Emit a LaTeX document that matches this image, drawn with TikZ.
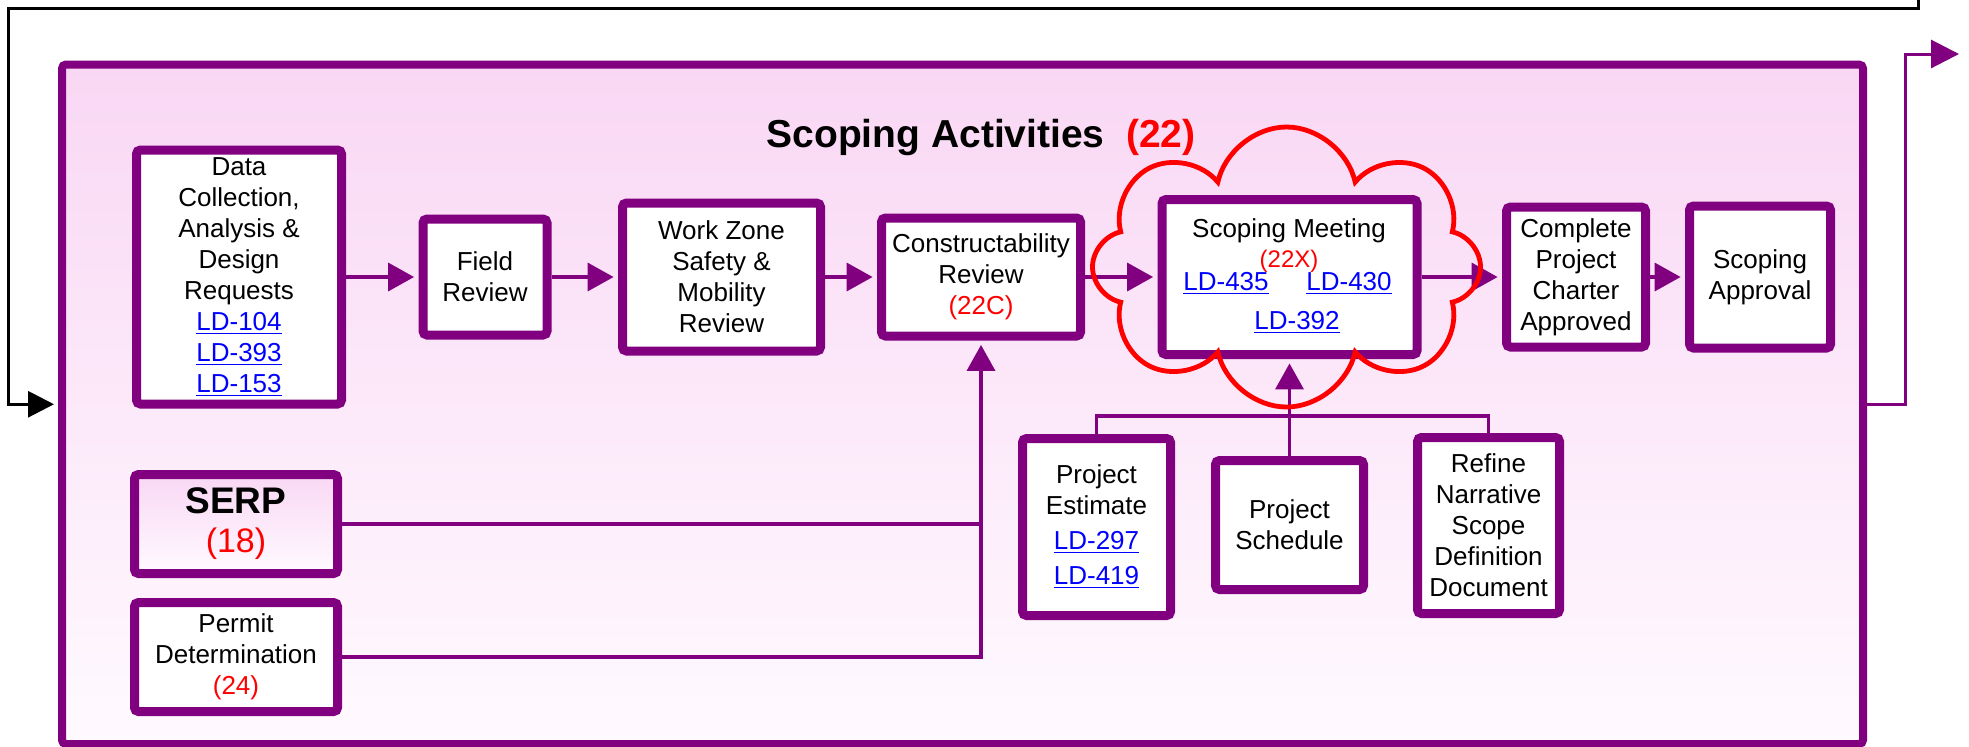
\documentclass[tikz,border=0pt]{standalone}
\usepackage{fontspec}
\setmainfont{Liberation Sans}
\usetikzlibrary{arrows.meta,shapes.symbols}

\definecolor{scopepurple}{RGB}{128,0,128}
\definecolor{linkblue}{RGB}{0,0,255}
\definecolor{pinktop}{RGB}{249,215,244}
\definecolor{pinkbottom}{RGB}{255,250,255}

\newcommand{\ldlink}[1]{\textcolor{linkblue}{\underline{#1}}}

\tikzset{every picture/.style={line width=0.75pt}}
\tikzset{
  stepbox/.style={draw=scopepurple, line width=4.5pt, fill=white, rounded corners=2pt, inner sep=0pt, align=center, font=\fontsize{13}{15.5}\selectfont},
  flow/.style={draw=scopepurple, line width=1.75pt, -{Triangle[length=13pt,width=14pt]}, shorten >=2.2pt},
  feed/.style={draw=scopepurple, line width=1.75pt},
  plaintext/.style={anchor=base, inner sep=0pt, font=\fontsize{13}{15.5}\selectfont}
}

\begin{document}
\begin{tikzpicture}[x=0.5pt,y=0.5pt,yscale=-1,xscale=1]
\useasboundingbox (0,0) rectangle (1969,746);

%Shape: Rectangle [scoping activities frame]
\node [draw=scopepurple, line width=4pt, rounded corners=2pt, top color=pinktop, bottom color=pinkbottom, minimum width=900.5pt, minimum height=339.75pt, inner sep=0pt] (scope) at (962.5,404.25) {};

% Text Node
\node [anchor=base, font=\fontsize{19.5}{23}\selectfont\bfseries] (title) at (981,147) {Scoping Activities\hspace{0.55em}\textcolor{red}{(22)}};

%Shape: Rectangle [top row]
\node [stepbox, minimum width=102.5pt, minimum height=127pt] (data) at (239,277) {Data\\Collection,\\Analysis \&\\Design\\Requests\\\ldlink{LD-104}\\\ldlink{LD-393}\\\ldlink{LD-153}};
\node [stepbox, minimum width=62pt, minimum height=58pt] (field) at (485,277) {Field\\Review};
\node [stepbox, minimum width=99pt, minimum height=74pt] (workzone) at (721.5,277) {Work Zone\\Safety \&\\Mobility\\Review};
\node [stepbox, minimum width=99.5pt, minimum height=59pt] (constr) at (981,277) {Constructability\\Review\\\textcolor{red}{(22C)}};
\node [stepbox, minimum width=127.5pt, minimum height=77.5pt] (meeting) at (1289.5,277) {};
\node [stepbox, minimum width=69.5pt, minimum height=70pt] (charter) at (1576,277) {Complete\\Project\\Charter\\Approved};
\node [stepbox, minimum width=70.5pt, minimum height=71pt] (approval) at (1760,277) {Scoping\\Approval};

% Text Node
\node [plaintext] (meettitle) at (1289,237) {Scoping Meeting};
% Text Node
\node [plaintext, font=\fontsize{12}{14}\selectfont, text=red] (meetcode) at (1289,267) {(22X)};
% Text Node
\node [plaintext] (ldfour35) at (1226,290) {\ldlink{LD-435}};
% Text Node
\node [plaintext] (ldfour30) at (1349,290) {\ldlink{LD-430}};
% Text Node
\node [plaintext] (ldthree92) at (1297,329) {\ldlink{LD-392}};

%Shape: Rectangle [left column]
\node [stepbox, top color=pinktop, bottom color=pinkbottom, minimum width=101.5pt, minimum height=49.5pt, font=\fontsize{17}{19.5}\selectfont] (serp) at (236,524) {{\fontsize{18.5}{20}\selectfont\bfseries SERP}\\\textcolor{red}{(18)}};
\node [stepbox, minimum width=101.5pt, minimum height=54.5pt] (permit) at (236,657) {Permit\\Determination\\\textcolor{red}{(24)}};

%Shape: Rectangle [bottom row]
\node [stepbox, minimum width=74pt, minimum height=88.5pt] (estimate) at (1096.5,527) {Project\\Estimate\\[2pt]\ldlink{LD-297}\\[2pt]\ldlink{LD-419}};
\node [stepbox, minimum width=74pt, minimum height=64.5pt] (schedule) at (1289.5,525) {Project\\Schedule};
\node [stepbox, minimum width=71pt, minimum height=88pt] (refine) at (1488.5,525.5) {Refine\\Narrative\\Scope\\Definition\\Document};

%Straight Lines [top row]
\draw [flow] (data) -- (field);
\draw [flow] (field) -- (workzone);
\draw [flow] (workzone) -- (constr);
\draw [flow] (constr) -- (meeting);
\draw [flow] (meeting) -- (charter);
\draw [flow] (charter) -- (approval);

%Straight Lines [inputs to constructability]
\draw [feed] (serp.east) -- (serp.east -| constr.south);
\draw [flow] (permit.east) -| (constr.south);

%Straight Lines [inputs to meeting]
\coordinate (hub) at (1289.5,416);
\draw [feed] (estimate.north) |- (hub) -| (refine.north);
\draw [flow] (schedule.north) -- (meeting.south);

%Shape: Cloud
\node [cloud, draw=red, line width=2.4pt, cloud puffs=8, cloud puff arc=155, cloud ignores aspect, minimum width=194pt, minimum height=140pt, inner sep=0pt] (meetcloud) at (1286.5,267) {};

%Straight Lines [exit and loop back]
\coordinate (nextstep) at (1959,54);
\draw [flow, line width=1.5pt, shorten >=0pt, -{Triangle[length=14pt,width=14pt]}] (scope.east) -- ++(38,0) |- (nextstep);
\coordinate (loopin) at (1918,0);
\draw [black, line width=1.5pt, -{Triangle[length=13pt,width=13pt]}, shorten >=2pt] (loopin) |- (8,8) |- (scope.west);

\end{tikzpicture}
\end{document}
